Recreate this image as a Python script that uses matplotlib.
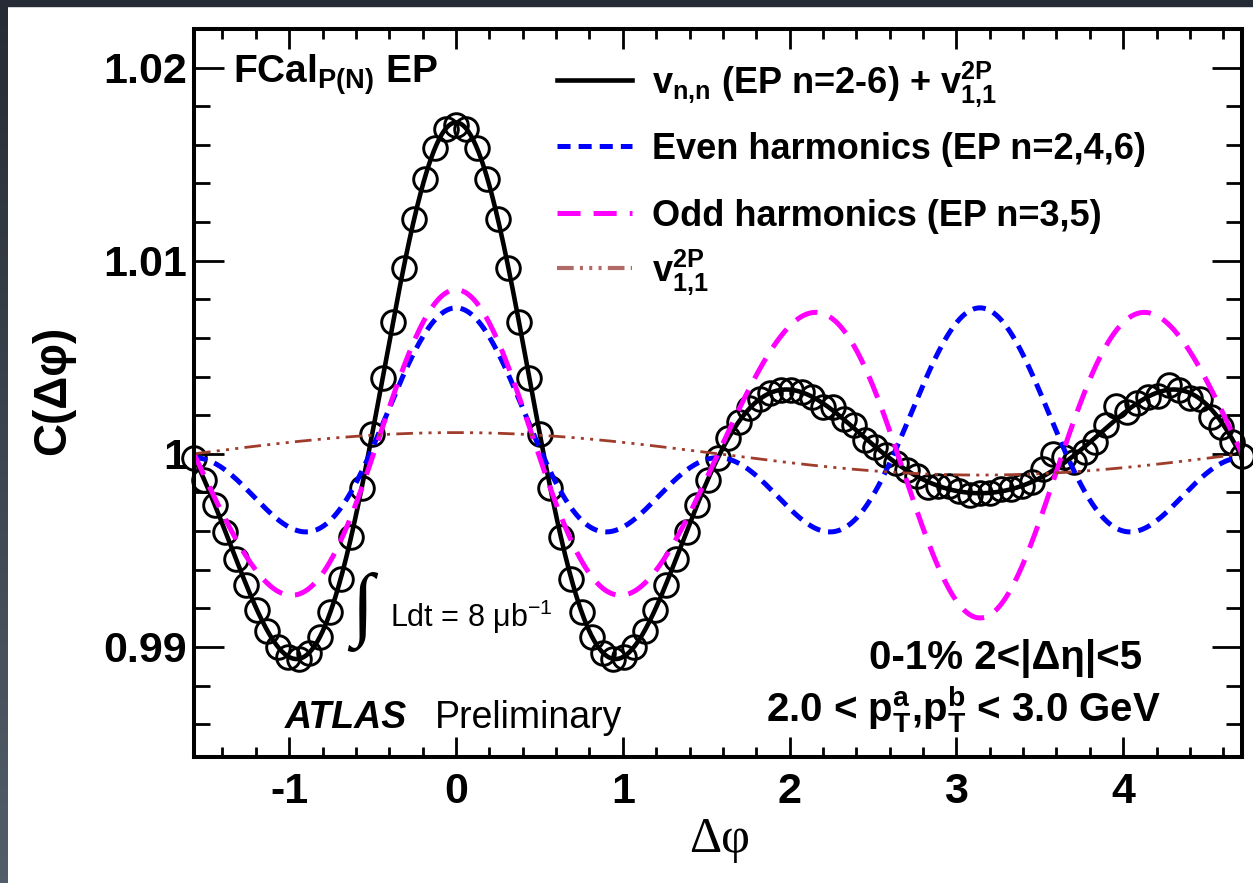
import numpy as np
import matplotlib
matplotlib.use("Agg")
import matplotlib.pyplot as plt
from matplotlib.ticker import FixedLocator, MultipleLocator

plt.rcParams["font.family"] = ["Liberation Sans", "DejaVu Sans"]
plt.rcParams["mathtext.default"] = "regular"
plt.rcParams["lines.scale_dashes"] = False

# Fourier coefficients (v_n,n)
v11 = 0.00055
even_n = [2, 4, 6]
even_v = [0.00186, 0.00184, 0.00008]
odd_n = [3, 5]
odd_v = [0.00382, 0.00043]

# measured correlation function, 101 points from -pi/2 to 3pi/2
data_dphi = -np.pi / 2 + np.arange(101) * np.pi / 50
data_c = [0.99980, 0.99863, 0.99734, 0.99596, 0.99456, 0.99320, 0.99193, 0.99084,
          0.99001, 0.98950, 0.98938, 0.98971, 0.99051, 0.99179, 0.99354, 0.99571,
          0.99824, 1.00102, 1.00393, 1.00685, 1.00963, 1.01214, 1.01425, 1.01584,
          1.01682, 1.01705, 1.01682, 1.01584, 1.01425, 1.01214, 1.00963, 1.00685,
          1.00393, 1.00102, 0.99824, 0.99571, 0.99354, 0.99179, 0.99051, 0.98971,
          0.98938, 0.98950, 0.99001, 0.99084, 0.99193, 0.99320, 0.99456, 0.99596,
          0.99734, 0.99863, 0.99980, 1.00082, 1.00167, 1.00235, 1.00284, 1.00316,
          1.00331, 1.00332, 1.00319, 1.00295, 1.00240, 1.00245, 1.00178, 1.00150,
          1.00070, 1.00037, 0.99993, 0.99952, 0.99915, 0.99883, 0.99830, 0.99834,
          0.99835, 0.99805, 0.99785, 0.99796, 0.99798, 0.99820, 0.99817, 0.99834,
          0.99856, 0.99920, 1.00000, 0.99985, 0.99960, 1.00010, 1.00060, 1.00150,
          1.00250, 1.00215, 1.00262, 1.00295, 1.00300, 1.00355, 1.00331, 1.00290,
          1.00284, 1.00190, 1.00140, 1.00060, 0.99990]

W, H = 1253, 883
fig = plt.figure(figsize=(W / 100, H / 100), dpi=100)

def fx(px):
    return px / W

def fy(py):
    return 1 - py / H

ax = fig.add_axes([fx(194), fy(757), fx(1242) - fx(194), fy(29) - fy(757)])

phi = np.linspace(-np.pi / 2, 3 * np.pi / 2, 800)
c_even = 1 + sum(2 * v * np.cos(n * phi) for n, v in zip(even_n, even_v))
c_odd = 1 + sum(2 * v * np.cos(n * phi) for n, v in zip(odd_n, odd_v))
c_v11 = 1 + 2 * v11 * np.cos(phi)
c_all = c_even + c_odd + c_v11 - 2

brown_dash = (12, 4.5, 2.2, 4.5, 2.2, 4.5, 2.2, 4.5)

ax.plot(data_dphi, data_c, "o", mfc="none", mec="black", ms=17, mew=2.1,
        clip_on=False, zorder=2)
ax.plot(phi, c_all, color="black", lw=3.3, zorder=3)
ax.plot(phi, c_even, color="#0000ff", lw=3.6, dashes=(9.4, 5.8), zorder=4)
ax.plot(phi, c_odd, color="#ff00ff", lw=3.6, dashes=(16.6, 9.4), zorder=4)
ax.plot(phi, c_v11, color="#a03c2c", lw=2.0, dashes=brown_dash, zorder=4)

ax.set_xlim(-np.pi / 2, 3 * np.pi / 2)
ax.set_ylim(0.9843, 1.022)
ax.xaxis.set_major_locator(FixedLocator([-1, 0, 1, 2, 3, 4]))
ax.xaxis.set_minor_locator(MultipleLocator(0.2))
ax.yaxis.set_major_locator(FixedLocator([0.99, 1.0, 1.01, 1.02]))
ax.yaxis.set_minor_locator(MultipleLocator(0.002))
ax.set_xticklabels(["-1", "0", "1", "2", "3", "4"])
ax.set_yticklabels(["0.99", "1", "1.01", "1.02"])
for s in ax.spines.values():
    s.set_linewidth(2.9)
    s.set_zorder(5)
ax.tick_params(which="both", direction="in", top=True, right=True, width=2.0,
               labelsize=31)
ax.tick_params(axis="y", which="major", length=21.6, pad=5)
ax.tick_params(axis="y", which="minor", length=11.5)
ax.tick_params(axis="x", which="major", length=14.4, pad=11)
ax.tick_params(axis="x", which="minor", length=7.2)
for lab in ax.get_xticklabels() + ax.get_yticklabels():
    lab.set_fontweight("bold")

fig.text(fx(53), fy(390), "C(Δφ)", rotation=90, fontsize=33, fontweight="bold",
         ha="center", va="center")
fig.text(fx(720), fy(840), "Δφ", fontsize=36, family="Liberation Serif",
         ha="center", va="center")

fig.text(fx(233), fy(83), r"FCal$_{\mathregular{P(N)}}$ EP", fontsize=28,
         fontweight="bold", va="baseline")

leg_y = [80, 146, 213, 268]
leg_lab = [r"v$_{\mathregular{n{,}n}}$ (EP n=2-6) + v$^{\mathregular{2P}}_{\mathregular{1{,}1}}$",
           "Even harmonics (EP n=2,4,6)",
           "Odd harmonics (EP n=3,5)",
           r"v$^{\mathregular{2P}}_{\mathregular{1{,}1}}$"]
leg_sty = [dict(color="black", lw=3.3),
           dict(color="#0000ff", lw=3.6, dashes=(9.4, 5.8)),
           dict(color="#ff00ff", lw=3.6, dashes=(16.6, 9.4)),
           dict(color="#b06a66", lw=3.0, dashes=brown_dash)]
for y, lab, sty in zip(leg_y, leg_lab, leg_sty):
    fig.add_artist(plt.Line2D([fx(557), fx(632)], [fy(y), fy(y)],
                              transform=fig.transFigure, **sty))
    fig.text(fx(652), fy(y + 13), lab, fontsize=26, fontweight="bold", va="baseline")

fig.text(fx(362), fy(612), "∫", fontsize=58, family="Liberation Serif",
         ha="center", va="center")
fig.text(fx(390), fy(627), r"Ldt = 8 μb$^{\mathregular{-1}}$", fontsize=22, va="baseline")

fig.text(fx(285), fy(728), "ATLAS", fontsize=27, fontweight="bold",
         style="italic", va="baseline")
fig.text(fx(435), fy(728), "Preliminary", fontsize=27, va="baseline")

fig.text(fx(869), fy(669), "0-1% 2<|Δη|<5", fontsize=29, fontweight="bold",
         va="baseline")
fig.text(fx(766), fy(722),
         r"2.0 < p$^{\mathregular{a}}_{\mathregular{T}}$,p$^{\mathregular{b}}_{\mathregular{T}}$ < 3.0 GeV",
         fontsize=29, fontweight="bold", va="baseline")

# slide background around the picture
fig.add_artist(plt.Rectangle((0, fy(6)), 1, 6 / H, transform=fig.transFigure,
                             color="#262c35", zorder=10))
bg = fig.add_axes([0, 0, fx(8), 1])
bg.imshow(np.linspace(0, 1, 100).reshape(-1, 1), aspect="auto",
          cmap=matplotlib.colors.LinearSegmentedColormap.from_list("s", ["#262c35", "#515d69"]))
bg.axis("off")

fig.savefig("out.png", dpi=100)
